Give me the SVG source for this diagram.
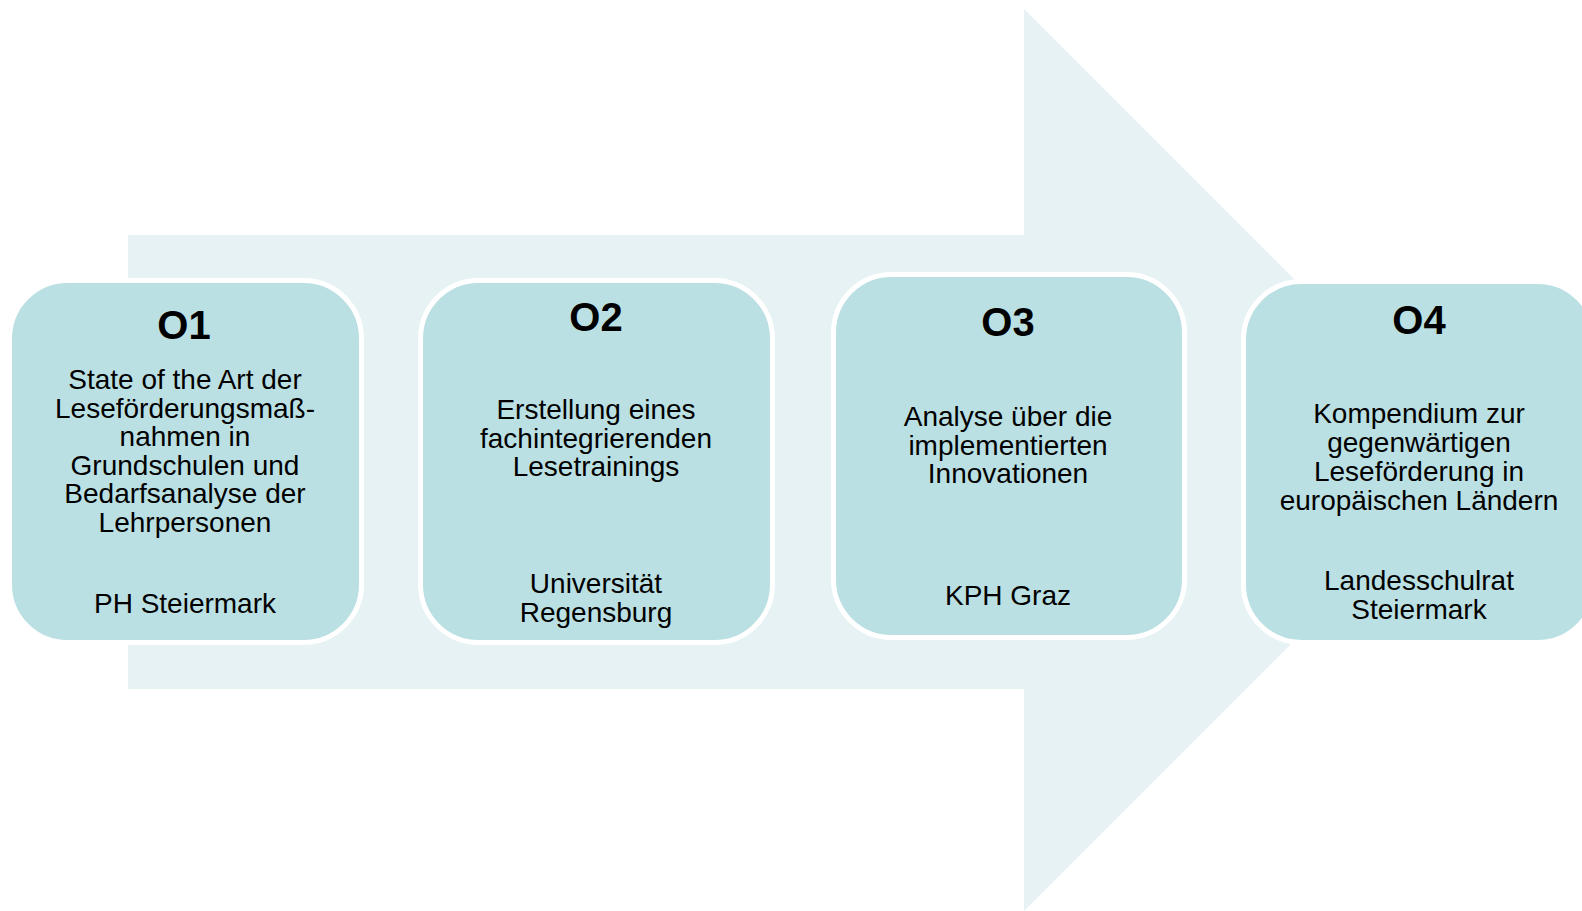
<svg xmlns="http://www.w3.org/2000/svg" width="1582" height="911" viewBox="0 0 1582 911">
<style>
.box{fill:#BBE0E3;stroke:#FFFFFF;stroke-width:5}
.arrow{fill:#E6F2F4}
.t{font-family:"Liberation Sans",Arial,sans-serif;font-size:28px;fill:#000;text-anchor:middle}
.h{font-family:"Liberation Sans",Arial,sans-serif;font-size:40px;font-weight:bold;fill:#000;text-anchor:middle}
</style>
<rect width="1582" height="911" fill="#FFFFFF"/>
<g id="connectors">
<polygon class="arrow" points="128,235 1024,235 1024,9 1475,460 1024,911 1024,689 128,689"/>
</g>
<g id="O1">
<rect class="box" x="9.5" y="280.5" width="352" height="362" rx="58" ry="58"/>
<text class="h" x="184" y="339">O1</text>
<text class="t" x="185" y="389">State of the Art der</text>
<text class="t" x="185" y="418">Leseförderungsmaß-</text>
<text class="t" x="185" y="446">nahmen in</text>
<text class="t" x="185" y="475">Grundschulen und</text>
<text class="t" x="185" y="503">Bedarfsanalyse der</text>
<text class="t" x="185" y="532">Lehrpersonen</text>
<text class="t" x="185" y="613">PH Steiermark</text>
</g>
<g id="O2">
<rect class="box" x="420.5" y="280.5" width="352" height="362" rx="58" ry="58"/>
<text class="h" x="596" y="331">O2</text>
<text class="t" x="596" y="419">Erstellung eines</text>
<text class="t" x="596" y="448">fachintegrierenden</text>
<text class="t" x="596" y="476">Lesetrainings</text>
<text class="t" x="596" y="593">Universität</text>
<text class="t" x="596" y="622">Regensburg</text>
</g>
<g id="O3">
<rect class="box" x="833.5" y="274.5" width="351" height="363" rx="58" ry="58"/>
<text class="h" x="1008" y="336">O3</text>
<text class="t" x="1008" y="426">Analyse über die</text>
<text class="t" x="1008" y="455">implementierten</text>
<text class="t" x="1008" y="483">Innovationen</text>
<text class="t" x="1008" y="605">KPH Graz</text>
</g>
<g id="O4">
<rect class="box" x="1243.5" y="281.5" width="352" height="361" rx="58" ry="58"/>
<text class="h" x="1419" y="334">O4</text>
<text class="t" x="1419" y="423">Kompendium zur</text>
<text class="t" x="1419" y="452">gegenwärtigen</text>
<text class="t" x="1419" y="481">Leseförderung in</text>
<text class="t" x="1419" y="510">europäischen Ländern</text>
<text class="t" x="1419" y="590">Landesschulrat</text>
<text class="t" x="1419" y="619">Steiermark</text>
</g>
</svg>
